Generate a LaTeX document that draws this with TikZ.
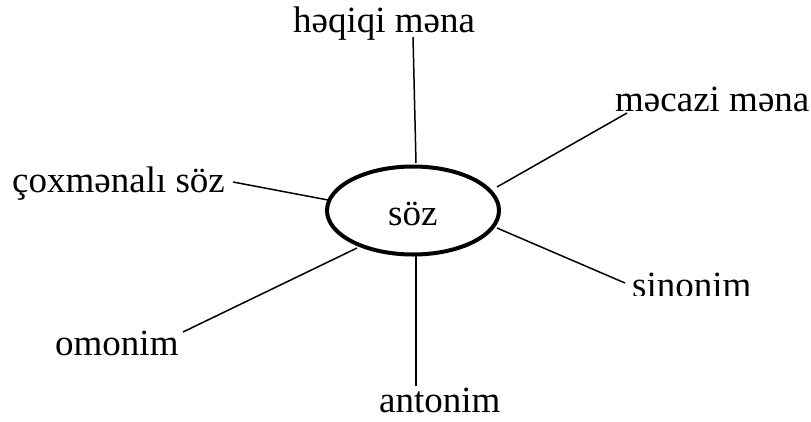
\documentclass[tikz,border=0pt]{standalone}
\usepackage{fontspec}
\setmainfont{Liberation Serif}
\usetikzlibrary{shapes.geometric}
\begin{document}
\begin{tikzpicture}[x=1pt,y=-1pt,
  word/.style={inner sep=0pt,anchor=base west,font=\fontsize{37}{40}\selectfont},
  link/.style={line width=1.5pt},
  core/.style={ellipse,draw,line width=4pt,minimum width=172pt,minimum height=88pt,inner sep=0pt}]
\useasboundingbox (0,0) rectangle (811,421);

% central word
\node[core] (soz) at (413,210.5) {};
\node[word] (sozt) at (388,225) {söz};

% surrounding terms
\node[word] (haqiqi) at (293,32) {həqiqi məna};
\node[word] (macazi) at (615,111) {məcazi məna};
\node[word] (coxm) at (12,192) {çoxmənalı söz};
\node[word] (omon) at (55,355) {omonim};
\node[word] (anton) at (379,412) {antonim};
\begin{scope}
  \clip (600,250) rectangle (811,295);
  \node[word] (sinon) at (632,297) {sinonim};
\end{scope}

% connector ends
\coordinate (a1) at (413,37);   \coordinate (b1) at (416,163);
\coordinate (a2) at (627,113);  \coordinate (b2) at (497,187);
\coordinate (a3) at (233,182);  \coordinate (b3) at (328,200);
\coordinate (a4) at (625,283);  \coordinate (b4) at (497,228);
\coordinate (a5) at (183,332);  \coordinate (b5) at (357,248);
\coordinate (a6) at (416,386);  \coordinate (b6) at (416,256);

\foreach \i in {1,...,6} \draw[link] (a\i) -- (b\i);
\end{tikzpicture}
\end{document}
